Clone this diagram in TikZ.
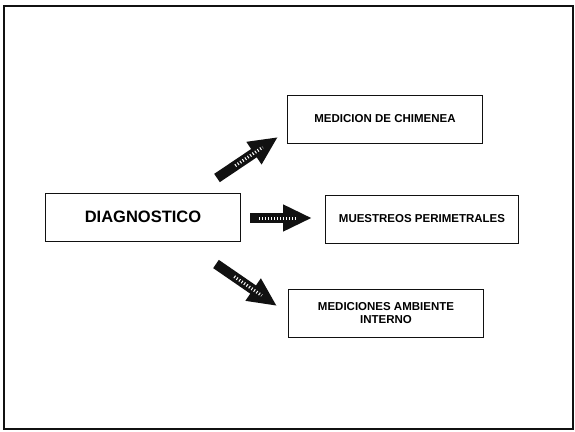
\documentclass[tikz,border=0pt]{standalone}
\usepackage{fontspec}
\setmainfont{Liberation Sans}
\usepackage{tikz}
\usetikzlibrary{positioning,arrows.meta,calc}
\definecolor{ink}{HTML}{111111}
\tikzset{
  box/.style={rectangle,draw=ink,line width=1pt,align=center,inner sep=0pt,
    minimum width=195pt,minimum height=48pt,font=\bfseries\fontsize{11.5}{13.5}\selectfont},
  fat/.style={draw=ink,line width=10pt,-{Triangle[length=29pt,width=25pt]}},
  dots/.style={draw=white,line width=3pt,dash pattern=on 1pt off 2pt},
}
\begin{document}
\begin{tikzpicture}[x=1pt,y=-1pt]
  \useasboundingbox (0,0) rectangle (575,431);
  \draw[ink,line width=1.5pt] (4,6) rectangle (573,429);
  \node[box,font=\bfseries\fontsize{16.5}{19}\selectfont] (diag) at (143,217) {DIAGNOSTICO};
  \node[box,anchor=west] (chim) at (287,119) {MEDICION DE CHIMENEA};
  \node[box,right=84pt of diag.east,yshift=-2pt,anchor=west,minimum width=193pt] (mues) {MUESTREOS PERIMETRALES};
  \node[box,anchor=west] (inte) at (288,313) {MEDICIONES AMBIENTE\\INTERNO};
  \coordinate (t1) at (217,178); \coordinate (h1) at (278,137);
  \coordinate (t2) at (250,218); \coordinate (h2) at (312,218);
  \coordinate (t3) at (216,264); \coordinate (h3) at (277,306);
  \draw[fat] (t1)--(h1); \draw[fat] (t2)--(h2); \draw[fat] (t3)--(h3);
  \draw[dots] ($(t1)!0.3!(h1)$)--($(t1)!0.75!(h1)$);
  \draw[dots] ($(t2)!0.15!(h2)$)--($(t2)!0.75!(h2)$);
  \draw[dots] ($(t3)!0.3!(h3)$)--($(t3)!0.75!(h3)$);
\end{tikzpicture}
\end{document}
